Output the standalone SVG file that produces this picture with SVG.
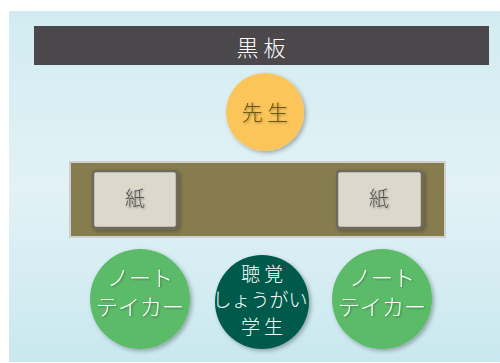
<svg xmlns="http://www.w3.org/2000/svg" width="500" height="363" viewBox="0 0 500 363">
<defs>
<linearGradient id="bg" x1="0" y1="0" x2="0" y2="1">
<stop offset="0" stop-color="#d1ecf0"/>
<stop offset="0.5" stop-color="#e2f2f6"/>
<stop offset="1" stop-color="#c9e8ef"/>
</linearGradient>
<filter id="sh" x="-20%" y="-20%" width="150%" height="150%">
<feDropShadow dx="2" dy="2" stdDeviation="2" flood-color="#000" flood-opacity="0.3"/>
</filter>
<filter id="tsh" x="-20%" y="-20%" width="150%" height="150%">
<feDropShadow dx="1" dy="1" stdDeviation="0.8" flood-color="#000" flood-opacity="0.35"/>
</filter>
</defs>
<style>
text{font-family:"Noto Sans CJK JP","Noto Sans CJK SC",sans-serif;text-anchor:middle;font-weight:300}
.w{fill:#ffffff}
.paper{fill:#dcd8cb;stroke:#6c6a60;stroke-width:2.5}
.green{fill:#5cbb69}
</style>
<rect x="0" y="0" width="500" height="363" fill="#ffffff"/>
<rect x="9" y="11" width="491" height="351" fill="url(#bg)"/>
<g id="blackboard">
<rect x="34" y="26" width="455" height="39" fill="#4a484b"/>
<text x="261" y="56" font-size="22" class="w">黒 板</text>
</g>
<g id="teacher">
<circle cx="265" cy="112" r="39" fill="#fcc55a" filter="url(#sh)"/>
<text x="265" y="120" font-size="21" fill="#6b5a12" filter="url(#tsh)">先 生</text>
</g>
<g id="desk">
<rect x="70" y="162" width="375" height="75" fill="#877c4e" stroke="#cfcfcf" stroke-width="2"/>
</g>
<g id="paper-left">
<rect x="93" y="171" width="84" height="57" rx="3" class="paper" filter="url(#sh)"/>
<text x="135" y="206" font-size="20" fill="#555" filter="url(#tsh)">紙</text>
</g>
<g id="paper-right">
<rect x="337" y="171" width="85" height="57" rx="3" class="paper" filter="url(#sh)"/>
<text x="379" y="206" font-size="20" fill="#555" filter="url(#tsh)">紙</text>
</g>
<g id="notetaker-left">
<circle cx="140" cy="299" r="50" class="green" filter="url(#sh)"/>
<text x="140" y="286" font-size="22" class="w" filter="url(#tsh)">ノート</text>
<text x="140" y="315" font-size="22" class="w" filter="url(#tsh)">テイカー</text>
</g>
<g id="student">
<circle cx="262" cy="302" r="47" fill="#005a4c" filter="url(#sh)"/>
<text x="262" y="281" font-size="19" class="w">聴 覚</text>
<text x="260" y="307" font-size="19" class="w">しょうがい</text>
<text x="262" y="334" font-size="19" class="w">学 生</text>
</g>
<g id="notetaker-right">
<circle cx="382" cy="299" r="50" class="green" filter="url(#sh)"/>
<text x="382" y="286" font-size="22" class="w" filter="url(#tsh)">ノート</text>
<text x="382" y="315" font-size="22" class="w" filter="url(#tsh)">テイカー</text>
</g>
<g id="connectors"/>
</svg>
